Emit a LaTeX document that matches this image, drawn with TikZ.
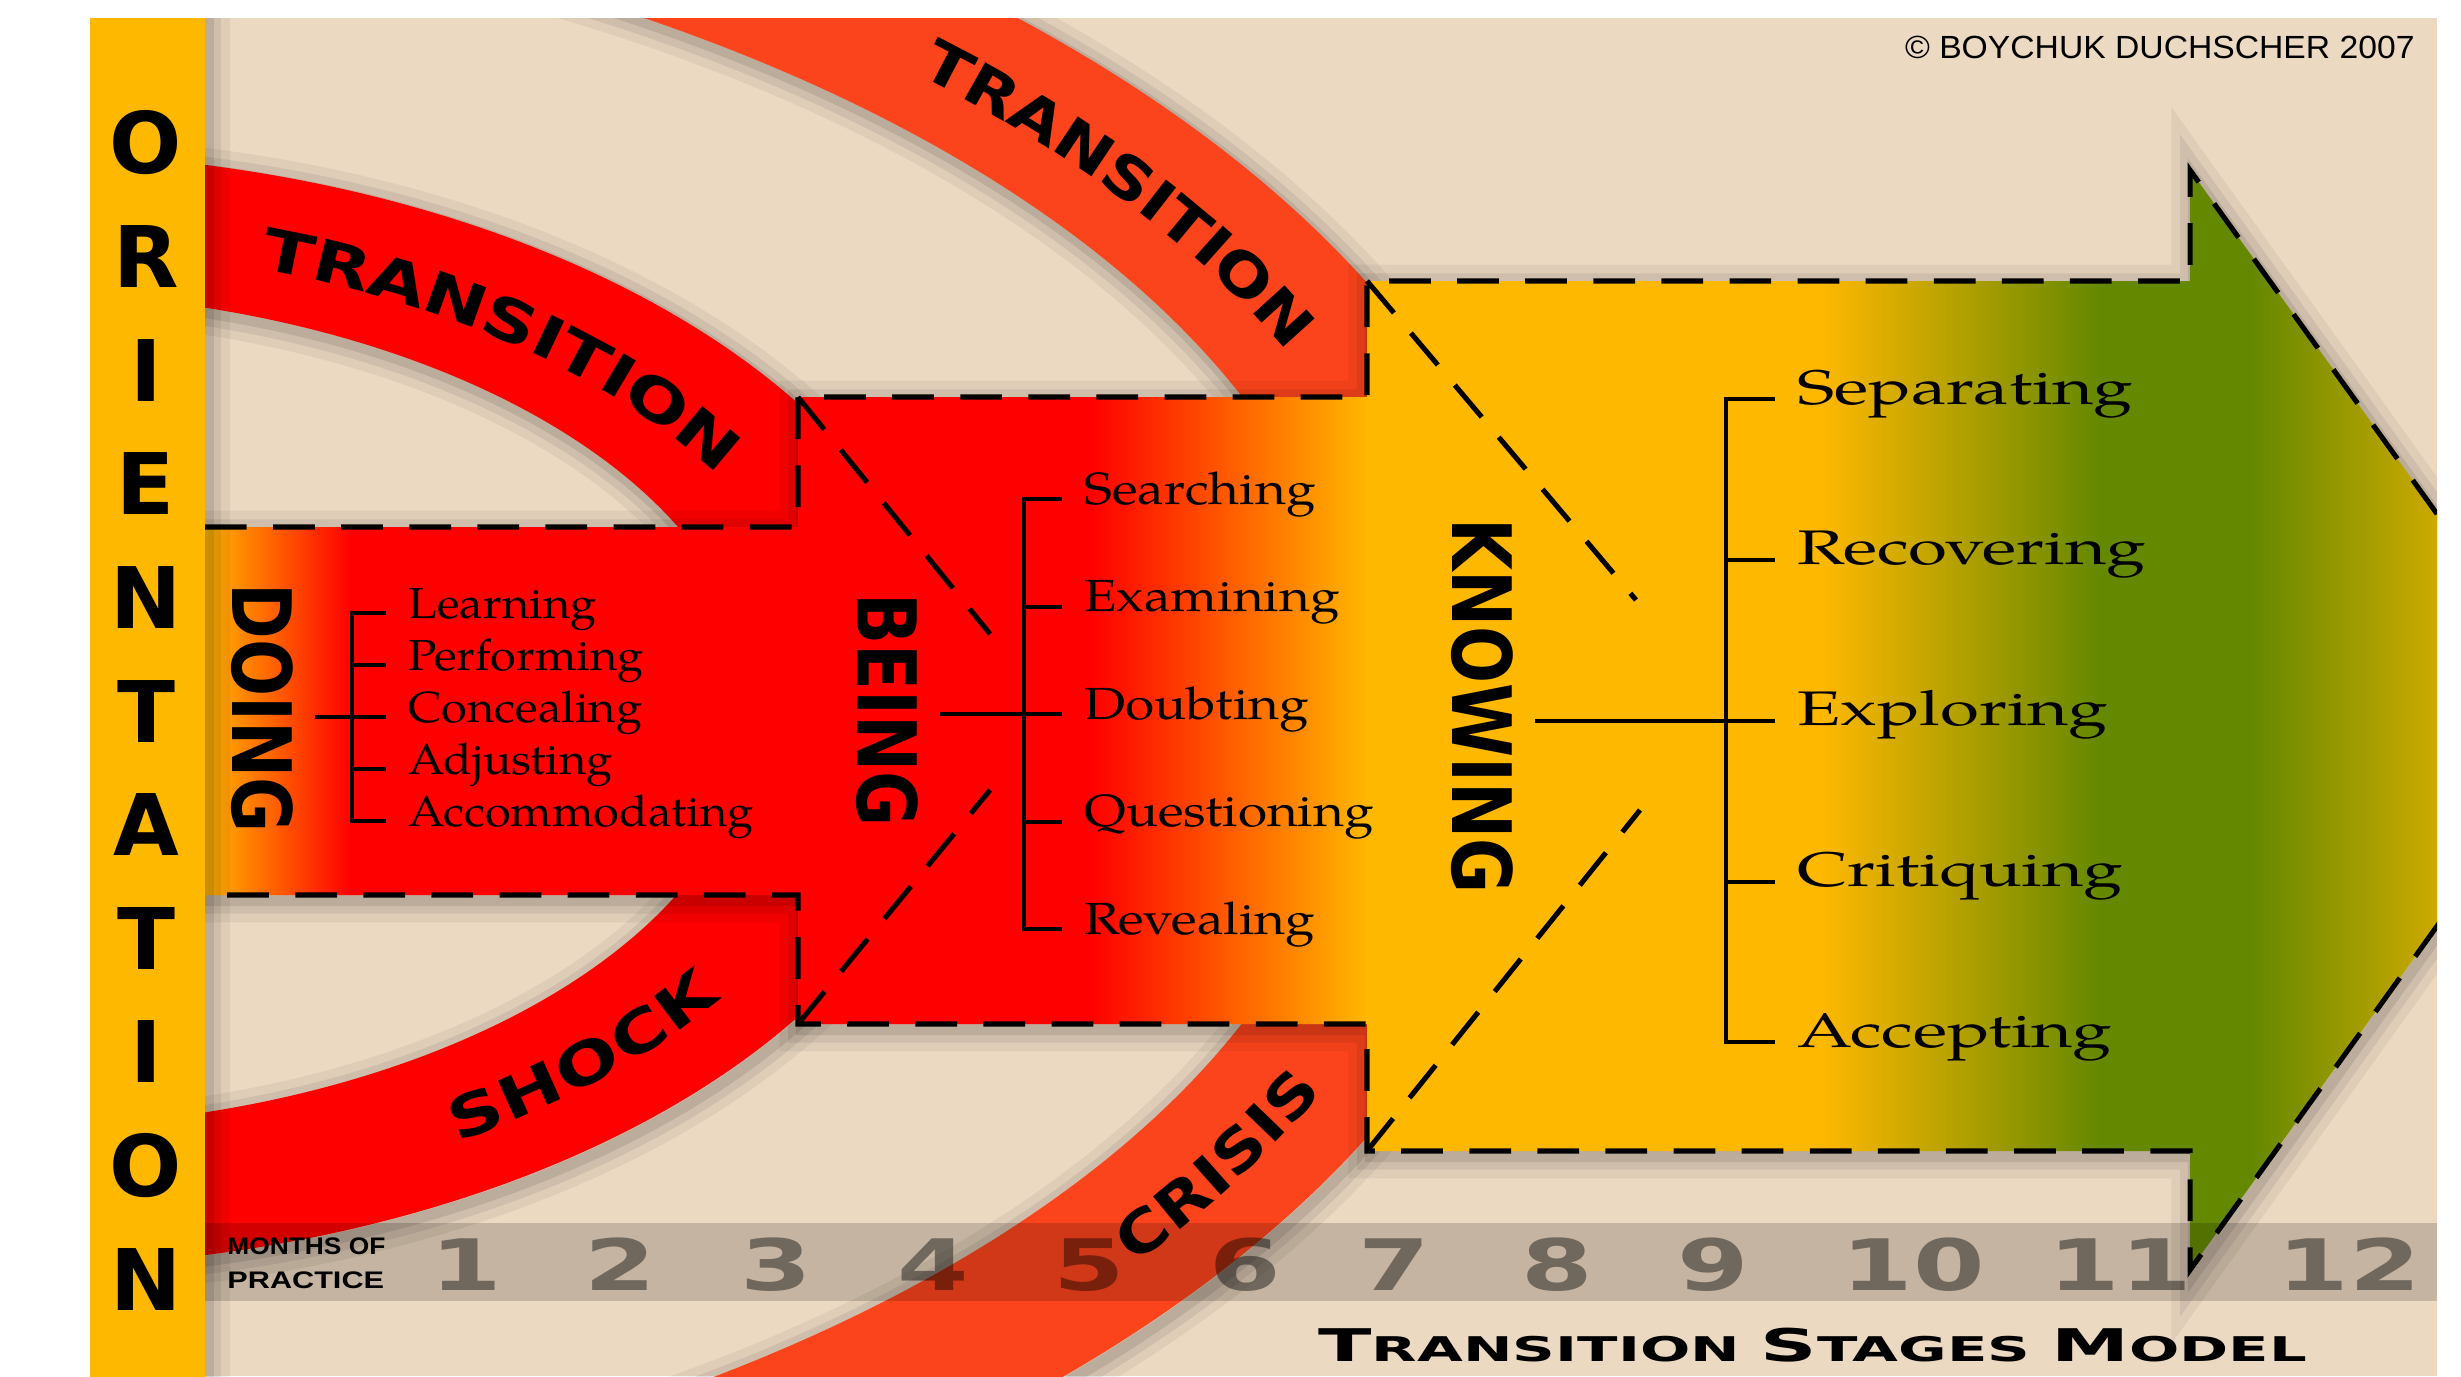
\documentclass[tikz,border=0pt]{standalone}
\usepackage{fontspec}
\usepackage{graphicx}
\usetikzlibrary{decorations.text}

\newfontfamily\bookfont{texgyrepagella}[Extension=.otf, UprightFont=*-regular]
\newfontfamily\capfont{DejaVu Sans}
\newfontfamily\bandfont{DejaVu Sans}[FakeStretch=1.3]
\newfontfamily\arcfont{DejaVu Sans}[FakeStretch=1.18]
\newfontfamily\helvfont{Liberation Sans}

\definecolor{beige}{RGB}{236,217,194}
\definecolor{amber}{RGB}{255,184,0}
\definecolor{hotred}{RGB}{254,0,0}
\definecolor{vermil}{RGB}{252,68,28}
\definecolor{leaf}{RGB}{100,136,0}
\definecolor{olive}{RGB}{205,170,0}

\newcommand\bandfmt{\bandfont\bfseries\fontsize{26.4}{26.4}\selectfont}
\newcommand\arcfmt{\arcfont\bfseries\fontsize{26.4}{26.4}\selectfont}
\newcommand\bigsc[2]{{\fontsize{20.5}{20.5}\selectfont #1}#2}
% outline of doing / being / knowing / arrow
\newcommand\stairline{(dtl) -- (dtr) -- (btl) -- (btr) -- (ktl) -- (ktr) -- (atop) -- (tip)
  -- (abot) -- (kbr) -- (kbl) -- (bbr) -- (bbl) -- (dbr) -- (dbl)}

\tikzset{
  halo/.style={
    preaction={draw=black, opacity=.05, line width=20pt, transform canvas={shift={(1.5pt,-2.5pt)}}},
    preaction={draw=black, opacity=.07, line width=12pt, transform canvas={shift={(1.5pt,-2.5pt)}}},
    preaction={draw=black, opacity=.09, line width=5pt, transform canvas={shift={(1.5pt,-2.5pt)}}}},
  dashline/.style={line width=2.3pt, dash pattern=on 19pt off 12pt},
  brk/.style={line width=1.8pt},
  stage/.style={inner sep=0pt, inner ysep=10pt, rotate=-90,
    font=\capfont\bfseries\fontsize{37.3}{37.3}\selectfont},
  orient/.style={inner sep=0pt, font=\capfont\bfseries\fontsize{38.7}{38.7}\selectfont},
  doitem/.style={anchor=base west, inner sep=0pt, inner xsep=10pt,
    font=\bookfont\fontsize{19.8}{19.8}\selectfont},
  beitem/.style={doitem, font=\bookfont\fontsize{20.5}{20.5}\selectfont},
  knitem/.style={doitem, font=\bookfont\fontsize{22.1}{22.1}\selectfont},
  digit/.style={anchor=base, inner sep=0pt, text=black, text opacity=.42,
    font=\capfont\bfseries\fontsize{32.3}{32.3}\selectfont},
  bandword/.style={decorate, decoration={text along path, text align=center, raise=-9.5pt, text={|\bandfmt|#1}}},
  arcword/.style={decorate, decoration={text along path, text align=center, raise=-9.5pt, text={|\arcfmt|#1}}}
}

\begin{document}
\begin{tikzpicture}[x=0.16mm, y=-0.16mm]
  \useasboundingbox (0,0) rectangle (2461,1376);
  \fill[white] (0,0) rectangle (2461,1376);
  \fill[beige] (90,18) rectangle (2437,1376);

  \coordinate (dtl) at (205,527);  \coordinate (dbl) at (205,895);
  \coordinate (dtr) at (798,527);  \coordinate (dbr) at (798,895);
  \coordinate (btl) at (798,397);  \coordinate (bbl) at (798,1024);
  \coordinate (btr) at (1367,397); \coordinate (bbr) at (1367,1024);
  \coordinate (ktl) at (1367,281); \coordinate (kbl) at (1367,1151);
  \coordinate (ktr) at (2190,281); \coordinate (kbr) at (2190,1151);
  \coordinate (atop) at (2190,170); \coordinate (abot) at (2190,1270);
  \coordinate (tip) at (2585,720);
  \coordinate (bd1) at (990,634);  \coordinate (bd2) at (990,790);
  \coordinate (kd1) at (1636,600); \coordinate (kd2) at (1640,810);

  \begin{scope}
    \clip (90,18) rectangle (2437,1376);
    % inner ring: transition / shock
    \path[halo, fill=hotred] ([shift={(0,710)}]180:955 and 558) arc[start angle=180, end angle=360, x radius=955, y radius=558]
      -- ([shift={(0,710)}]360:754 and 418) arc[start angle=360, end angle=180, x radius=754, y radius=418] -- cycle;
    \path[halo, fill=hotred] ([shift={(0,710)}]0:955 and 558) arc[start angle=0, end angle=180, x radius=955, y radius=558]
      -- ([shift={(0,710)}]180:754 and 418) arc[start angle=180, end angle=0, x radius=754, y radius=418] -- cycle;
    % outer ring: transition / crisis
    \path[halo, fill=vermil] ([shift={(-200,710)}]270:1747 and 965) arc[start angle=270, end angle=360, x radius=1747, y radius=965]
      -- ([shift={(-200,710)}]360:1559 and 823) arc[start angle=360, end angle=270, x radius=1559, y radius=823] -- cycle;
    \path[halo, fill=vermil] ([shift={(-200,710)}]0:1747 and 965) arc[start angle=0, end angle=90, x radius=1747, y radius=965]
      -- ([shift={(-200,710)}]90:1559 and 823) arc[start angle=90, end angle=0, x radius=1559, y radius=823] -- cycle;

    \path[bandword=TRANSITION] ([shift={(0,710)}]-79:855 and 485) arc[start angle=-79, end angle=-21, x radius=855, y radius=485];
    \path[bandword=SHOCK] ([shift={(0,710)}]63:855 and 485) arc[start angle=63, end angle=28, x radius=855, y radius=485];
    \path[arcword=TRANSITION] ([shift={(-200,710)}]-51.5:1653 and 894) arc[start angle=-51.5, end angle=-18.5, x radius=1653, y radius=894];
    \path[arcword=CRISIS] ([shift={(-200,710)}]45:1653 and 894) arc[start angle=45, end angle=14, x radius=1653, y radius=894];

    % stages
    \path[halo] \stairline -- cycle;
    \begin{scope}
      \clip \stairline -- cycle;
      \shade[left color=amber, right color=hotred] (204,160) rectangle (351,1280);
      \fill[hotred] (350,160) rectangle (1091,1280);
      \shade[left color=hotred, right color=amber] (1090,160) rectangle (1368,1280);
      \fill[amber] (1367,160) rectangle (1821,1280);
      \shade[left color=amber, right color=leaf] (1820,160) rectangle (2101,1280);
      \fill[leaf] (2100,160) rectangle (2251,1280);
      \shade[left color=leaf, right color=olive] (2250,160) rectangle (2438,1280);
      \fill[olive] (2437,160) rectangle (2600,1280);
    \end{scope}
    \draw[dashline] \stairline;
    \draw[dashline] (btl) -- (bd1);
    \draw[dashline] (bbl) -- (bd2);
    \draw[dashline] (ktl) -- (kd1);
    \draw[dashline] (kbl) -- (kd2);

    % months
    \fill[black, opacity=.17] (205,1223) rectangle (2437,1301);
    \foreach \d/\x in {1/466, 2/620, 3/776, 4/933, 5/1089, 6/1245, 7/1394, 8/1557, 9/1713, 10/1913, 11/2120, 12/2349}
      \node[digit] (m\d) at (\x,1290) {\scalebox{1.45}[1]{\d}};

    \path[halo, fill=amber] (90,0) rectangle (205,1400);
  \end{scope}

  \foreach \ltr [count=\k from 0] in {O,R,I,E,N,T,A,T,I,O,N}
    \node[orient] (or\k) at (146, 143+113.6*\k) {\ltr};

  \node[stage] (doing) at (262,708) {\scalebox{0.82}[1]{DOING}};
  \node[stage] (being) at (887,710) {\scalebox{0.82}[1]{BEING}};
  \node[stage] (knowing) at (1482,706) {\scalebox{0.82}[1]{KNOWING}};

  \foreach \nm/\txt [count=\k from 0] in {learn/Learning, perf/Performing, conc/Concealing, adj/Adjusting, accom/Accommodating}
    \node[doitem] (\nm) at (386, 618+52*\k) {\scalebox{1.08}[1]{\txt}};
  \foreach \nm/\txt [count=\k from 0] in {srch/Searching, exam/Examining, doubt/Doubting, quest/Questioning, reveal/Revealing}
    \node[beitem] (\nm) at (1062, 504+107.5*\k) {\scalebox{1.18}[1]{\txt}};
  \foreach \nm/\txt [count=\k from 0] in {separ/Separating, recov/Recovering, explo/Exploring, crit/Critiquing, accept/Accepting}
    \node[knitem] (\nm) at (1775, 404+160.75*\k) {\scalebox{1.46}[1]{\txt}};

  % brackets
  \draw[brk] (learn.mid west) -- ++(-34,0) |- (accom.mid west);
  \foreach \nm in {perf,conc,adj} \draw[brk] (\nm.mid west) -- ++(-34,0);
  \draw[brk] (doing.north |- conc.mid west) -- (conc.mid west);
  \draw[brk] (srch.mid west) -- ++(-38,0) |- (reveal.mid west);
  \foreach \nm in {exam,doubt,quest} \draw[brk] (\nm.mid west) -- ++(-38,0);
  \draw[brk] (being.north |- doubt.mid west) -- (doubt.mid west);
  \draw[brk] (separ.mid west) -- ++(-49,0) |- (accept.mid west);
  \foreach \nm in {recov,explo,crit} \draw[brk] (\nm.mid west) -- ++(-49,0);
  \draw[brk] (knowing.north |- explo.mid west) -- (explo.mid west);

  \node[anchor=base west, inner sep=0pt, font=\helvfont\bfseries\fontsize{10.9}{10.9}\selectfont] (mon1) at (227,1254) {\scalebox{1.1}[1]{MONTHS OF}};
  \node[anchor=base west, inner sep=0pt, font=\helvfont\bfseries\fontsize{10.9}{10.9}\selectfont] (mon2) at (227,1288) {\scalebox{1.28}[1]{PRACTICE}};

  \node[anchor=base west, inner sep=0pt, font=\capfont\bfseries\fontsize{15.5}{15.5}\selectfont] (title) at (1318,1361)
    {\scalebox{1.74}[1]{\bigsc{T}{RANSITION} \bigsc{S}{TAGES} \bigsc{M}{ODEL}}};
  \node[anchor=base east, inner sep=0pt, font=\helvfont\fontsize{14.6}{14.6}\selectfont] (copy) at (2415,58)
    {\scalebox{1.05}[1]{© BOYCHUK DUCHSCHER 2007}};
\end{tikzpicture}
\end{document}
